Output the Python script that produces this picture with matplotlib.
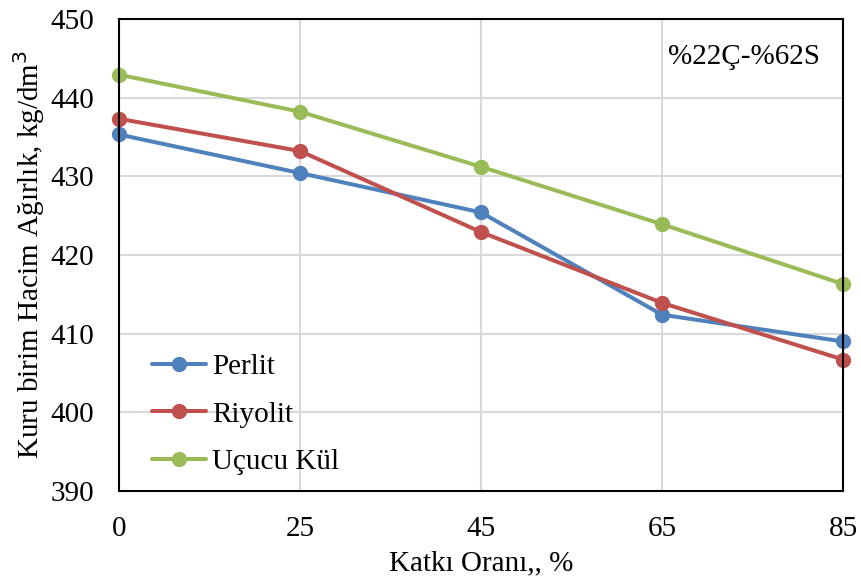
import matplotlib
matplotlib.use("Agg")
import matplotlib.pyplot as plt

categories = ["0", "25", "45", "65", "85"]
perlit = [435.3, 430.4, 425.4, 412.4, 409.0]
riyolit = [437.3, 433.2, 422.9, 413.9, 406.7]
ucucu_kul = [442.9, 438.2, 431.2, 423.9, 416.3]
series_names = ["Perlit", "Riyolit", "Uçucu Kül"]
colors = ["#4F81BD", "#C0504D", "#9BBB59"]
yticks = [390, 400, 410, 420, 430, 440, 450]

plt.rcParams["font.family"] = ["Liberation Serif", "DejaVu Serif"]
FS = 21

fig = plt.figure(figsize=(8.62, 5.88), dpi=100)
ax = fig.add_axes([0.138, 0.165, 0.840, 0.803])

x = list(range(len(categories)))
for vals, name, c in zip([perlit, riyolit, ucucu_kul], series_names, colors):
    ax.plot(x, vals, color=c, lw=2.9, marker="o", markersize=10, label=name,
            solid_capstyle="round", zorder=3, clip_on=False)

ax.set_xlim(0, len(categories) - 1)
ax.set_ylim(390, 450)
ax.set_xticks(x)
ax.set_xticklabels(categories)
ax.set_yticks(yticks)
ax.tick_params(length=0, labelsize=FS, pad=18)
ax.grid(True, color="#D9D9D9", lw=1.5, zorder=0)
for s in ax.spines.values():
    s.set_color("black")
    s.set_linewidth(1.5)
    s.set_zorder(4)

ax.set_xlabel("Katkı Oranı,, %", fontsize=FS, labelpad=6)
ax.set_ylabel("Kuru birim Hacim Ağırlık, kg/dm$^3$", fontsize=FS, labelpad=2)

ax.text(0.968, 0.92, "%22Ç-%62S", transform=ax.transAxes, fontsize=FS,
        ha="right", va="center")

leg = ax.legend(loc="lower left", bbox_to_anchor=(0.01, -0.022), frameon=False,
                fontsize=FS, handlelength=1.85, handletextpad=0.2,
                labelspacing=0.72)

fig.savefig("out.png", dpi=100)
